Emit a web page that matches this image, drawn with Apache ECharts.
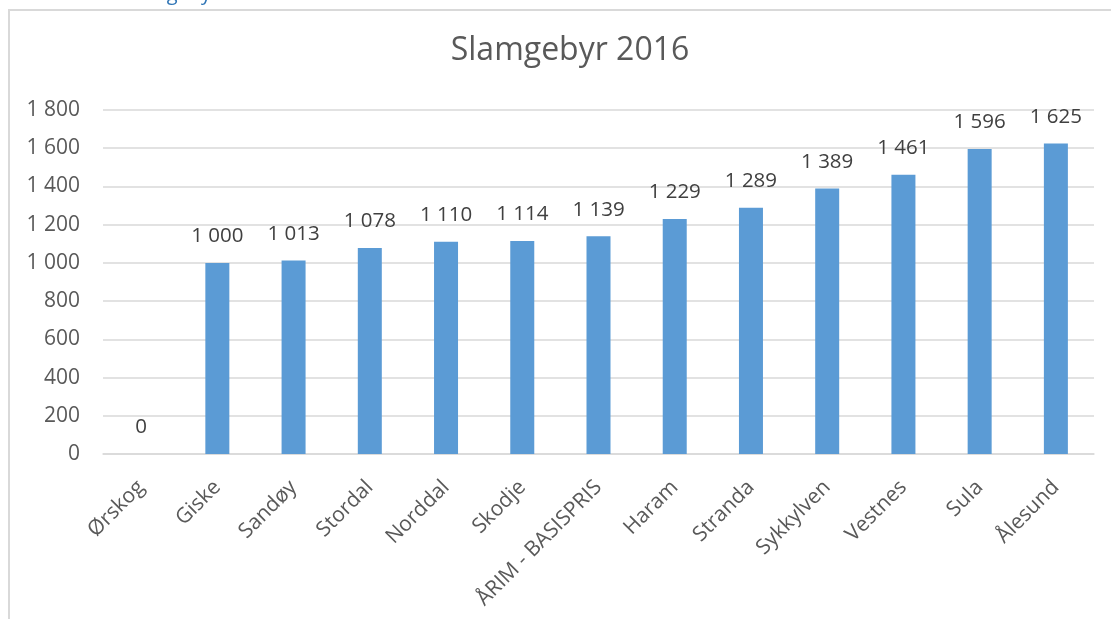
<!DOCTYPE html>
<html>
<head>
<meta charset="utf-8">
<script src="https://cdn.jsdelivr.net/npm/echarts@6/dist/echarts.min.js"></script>
<style>
  html, body { margin: 0; padding: 0; background: #fff; }
  #main { width: 1111px; height: 619px; }
</style>
</head>
<body>
<div id="main"></div>
<script>
var categories = ['Ørskog', 'Giske', 'Sandøy', 'Stordal', 'Norddal', 'Skodje', 'ÅRIM - BASISPRIS',
  'Haram', 'Stranda', 'Sykkylven', 'Vestnes', 'Sula', 'Ålesund'];
var values = [0, 1000, 1013, 1078, 1110, 1114, 1139, 1229, 1289, 1389, 1461, 1596, 1625];
var yMax = 1800;
var yStep = 200;

var font = '"Open Sans", "Noto Sans", sans-serif';

// 1000 -> "1 000"
function spaced(v) {
  return String(v).replace(/\B(?=(\d{3})+(?!\d))/g, ' ');
}

var chart = echarts.init(document.getElementById('main'), null, { renderer: 'canvas' });

var option = {
  backgroundColor: '#fff',
  animation: false,
  title: {
    text: 'Slamgebyr 2016',
    left: 565,
    top: 30,
    textAlign: 'center',
    textStyle: { fontFamily: font, fontSize: 32, fontWeight: 'normal', color: '#595959' }
  },
  graphic: [
    {
      type: 'rect',
      silent: true,
      shape: { x: 9, y: 10, width: 1300, height: 800 },
      style: { fill: 'none', stroke: '#d9d9d9', lineWidth: 2 }
    },
    {
      type: 'text',
      silent: true,
      x: 121,
      y: 4,
      style: { text: 'Slamgebyr', font: '20px ' + font, fill: '#2e74b5', verticalAlign: 'bottom' }
    }
  ],
  grid: { left: 103, right: 17, top: 110, bottom: 165 },
  xAxis: {
    type: 'category',
    data: categories,
    axisTick: { show: false },
    axisLine: { lineStyle: { color: '#d9d9d9', width: 1.5 } },
    axisLabel: {
      rotate: 45,
      interval: 0,
      margin: 30,
      color: '#595959',
      fontFamily: font,
      fontSize: 21
    }
  },
  yAxis: {
    type: 'value',
    min: 0,
    max: yMax,
    interval: yStep,
    axisLine: { show: false },
    axisTick: { show: false },
    axisLabel: {
      margin: 23,
      color: '#595959',
      fontFamily: font,
      fontSize: 21,
      formatter: spaced
    },
    splitLine: { lineStyle: { color: '#d9d9d9', width: 1.5 } }
  },
  series: [
    {
      type: 'bar',
      data: values,
      barWidth: 24,
      itemStyle: { color: '#5b9bd5' },
      label: {
        show: true,
        position: 'top',
        distance: 16,
        color: '#404040',
        fontFamily: font,
        fontSize: 20.5,
        formatter: function (p) { return spaced(p.value); }
      }
    }
  ]
};

chart.setOption(option);
</script>
</body>
</html>
